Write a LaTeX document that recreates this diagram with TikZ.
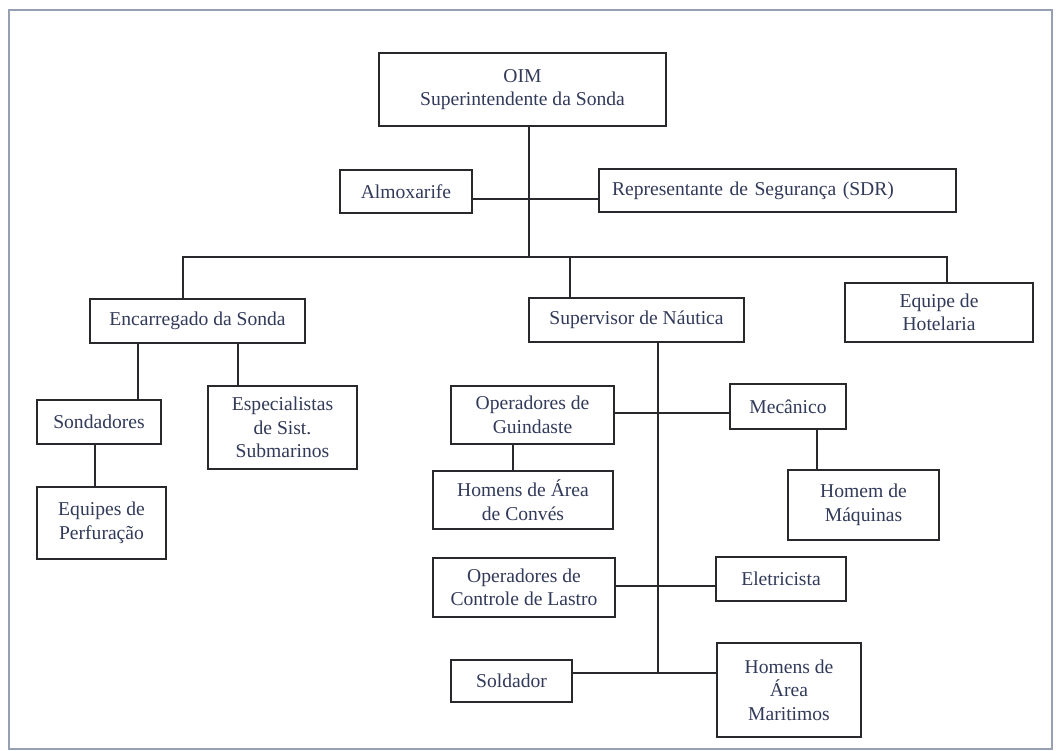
\documentclass[tikz,border=0pt]{standalone}
\usepackage{fontspec}
\setmainfont{Liberation Serif}
\usepackage{xcolor}
\usepackage{tikz}

\definecolor{labelink}{RGB}{50,58,90}
\definecolor{boxline}{RGB}{40,40,45}
\definecolor{pageedge}{RGB}{150,160,178}

\begin{document}
\begin{tikzpicture}[
  x=1pt,y=-1pt,
  link/.style={draw=boxline,line width=1.5pt},
  unit/.style={draw=boxline,line width=1.5pt,fill=white,text=labelink,
    align=center,inner sep=0pt,font=\fontsize{19.6}{23.5}\selectfont},
  page/.style={draw=pageedge,line width=2.5pt}
]
\path[fill=white] (0,0) rectangle (1056,751);
\draw[page] (9,10) rectangle (1052,749);

% Top: OIM and its staff posts.
\node[unit,minimum width=287pt,minimum height=73pt] (oim) at (522.5,89.5) {OIM\\Superintendente da Sonda};
\node[unit,minimum width=132pt,minimum height=43pt] (almoxarife) at (406,191.5) {Almoxarife};
\node[unit,minimum height=43pt,text width=331pt,inner xsep=13pt,align=left] (sdr) at (777.5,190.5) {Representante de Segurança (SDR)};
\coordinate (staff) at (529,199);
\coordinate (spine) at (529,257);
\draw[link] (oim.south -| spine) -- (spine);
\draw[link] (almoxarife.east |- staff) -- (sdr.west |- staff);

% Second level: three heads under the bus.
\node[unit,minimum width=215pt,minimum height=44pt] (encarregado) at (197.5,321) {Encarregado da Sonda};
\node[unit,minimum width=215pt,minimum height=44pt] (supervisor) at (636.5,320) {Supervisor de Náutica};
\node[unit,minimum width=188pt,minimum height=59pt] (hotelaria) at (939,312.5) {Equipe de\\Hotelaria};
\coordinate (bus-left) at (183,257);
\coordinate (bus-mid) at (570,257);
\coordinate (bus-right) at (947,257);
\draw[link] (encarregado.north -| bus-left) -- (bus-left) -- (bus-right) -- (hotelaria.north -| bus-right);
\draw[link] (bus-mid) -- (supervisor.north -| bus-mid);

% Drilling side.
\node[unit,minimum width=124pt,minimum height=44pt] (sondadores) at (99,422) {Sondadores};
\node[unit,minimum width=129pt,minimum height=72pt] (perfuracao) at (101.5,523) {Equipes de\\Perfuração};
\node[unit,minimum width=149pt,minimum height=83pt] (especialistas) at (282.5,427.5) {Especialistas\\de Sist.\\Submarinos};
\coordinate (sond-drop) at (138,0);
\coordinate (espec-drop) at (238,0);
\coordinate (perf-drop) at (95,0);
\draw[link] (encarregado.south -| sond-drop) -- (sondadores.north -| sond-drop);
\draw[link] (encarregado.south -| espec-drop) -- (especialistas.north -| espec-drop);
\draw[link] (sondadores.south -| perf-drop) -- (perfuracao.north -| perf-drop);

% Marine side, hung on one spine.
\node[unit,minimum width=163pt,minimum height=58pt] (guindaste) at (532.5,415) {Operadores de\\Guindaste};
\node[unit,minimum width=116pt,minimum height=45pt] (mecanico) at (788,406.5) {Mecânico};
\node[unit,minimum width=180pt,minimum height=58pt] (conves) at (523,500) {Homens de Área\\de Convés};
\node[unit,minimum width=151pt,minimum height=70pt] (maquinas) at (863.5,505) {Homem de\\Máquinas};
\node[unit,minimum width=182pt,minimum height=59pt] (lastro) at (524,587.5) {Operadores de\\Controle de Lastro};
\node[unit,minimum width=130pt,minimum height=44pt] (eletricista) at (781,579) {Eletricista};
\node[unit,minimum width=121pt,minimum height=42pt] (soldador) at (511.5,681) {Soldador};
\node[unit,minimum width=144pt,minimum height=94pt] (maritimos) at (789,690) {Homens de\\Área\\Maritimos};
\coordinate (naut-spine) at (658,673);
\coordinate (guind-row) at (0,413);
\coordinate (lastro-row) at (0,586);
\coordinate (conves-drop) at (513,0);
\coordinate (maq-drop) at (817,0);
\draw[link] (supervisor.south -| naut-spine) -- (naut-spine);
\draw[link] (guindaste.east |- guind-row) -- (mecanico.west |- guind-row);
\draw[link] (guindaste.south -| conves-drop) -- (conves.north -| conves-drop);
\draw[link] (mecanico.south -| maq-drop) -- (maquinas.north -| maq-drop);
\draw[link] (lastro.east |- lastro-row) -- (eletricista.west |- lastro-row);
\draw[link] (soldador.east |- naut-spine) -- (maritimos.west |- naut-spine);

\end{tikzpicture}
\end{document}
